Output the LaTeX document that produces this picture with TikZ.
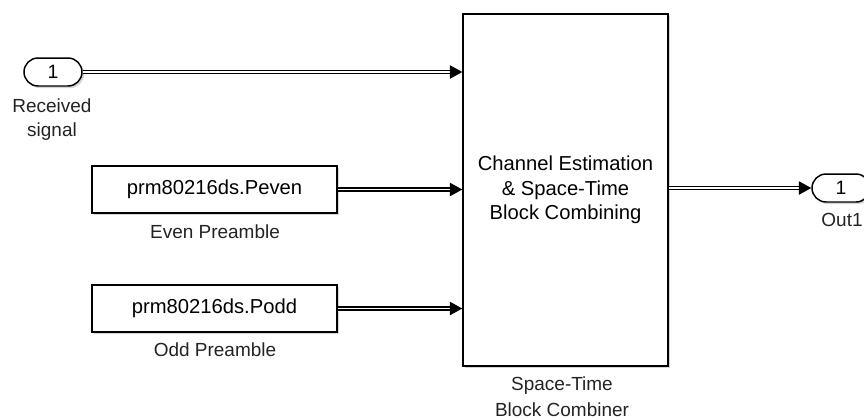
\documentclass[tikz,border=0pt]{standalone}
\usepackage{fontspec}
\setmainfont{Liberation Sans}
\usetikzlibrary{arrows.meta,positioning,shapes.misc,shadows}
\definecolor{LabelGray}{RGB}{35,35,35}
\definecolor{ShadowGray}{RGB}{160,160,160}

\begin{document}
\begin{tikzpicture}[x=0.02cm, y=-0.02cm,
    blockshadow/.style={drop shadow={shadow xshift=1.2pt, shadow yshift=-1.2pt, fill=ShadowGray, opacity=0.45}},
    port/.style={draw, line width=0.85pt, rounded rectangle, fill=white, blockshadow,
        minimum width=1.16cm, minimum height=0.56cm, inner sep=0pt,
        font=\fontsize{11}{13}\selectfont},
    block/.style={draw, line width=0.85pt, rectangle, fill=white, blockshadow, inner sep=0pt,
        align=center, font=\fontsize{11.5}{14}\selectfont},
    caption/.style={align=center, text=LabelGray, font=\fontsize{10.8}{14}\selectfont},
    sig/.style={draw, double, double distance=1.1pt, line width=0.75pt,
        -{Triangle[length=7pt, width=7.5pt]}}]

    % Page size (same as the model screenshot)
    \useasboundingbox (0,0) rectangle (864,419);
    \clip (0,0) rectangle (864,419);

    % Inport
    \node[port] (rx) at (53,72) {1};
    \node[caption] (rxlabel) at (52,119.5) {Received\\signal};

    % Constant blocks holding the preambles
    \node[block, minimum width=4.9cm, minimum height=0.94cm] (peven) at (214.5,189.5) {prm80216ds.Peven};
    \node[caption] (evenlabel) at (215,232) {Even Preamble};

    \node[block, minimum width=4.9cm, minimum height=0.94cm] (podd) at (214.5,308.5) {prm80216ds.Podd};
    \node[caption] (oddlabel) at (215,350) {Odd Preamble};

    % Subsystem
    \node[block, minimum width=4.1cm, minimum height=7.04cm] (stbc) at (565.5,190)
        {Channel Estimation\\\& Space-Time\\Block Combining};
    \node[caption, font=\fontsize{10.8}{15}\selectfont] (stbclabel) at (562,396.5) {Space-Time\\Block Combiner};

    % Outport (cut off at the right edge)
    \node[port] (out) at (841,188) {1};
    \node[caption] (outlabel) at (842,220) {Out1};

    % Signal lines
    \draw[sig] (rx.east) -- (rx.east -| stbc.west);
    \draw[sig] (peven.east) -- (peven.east -| stbc.west);
    \draw[sig] (podd.east) -- (podd.east -| stbc.west);
    \draw[sig] (stbc.east |- out.west) -- (out.west);
\end{tikzpicture}
\end{document}
